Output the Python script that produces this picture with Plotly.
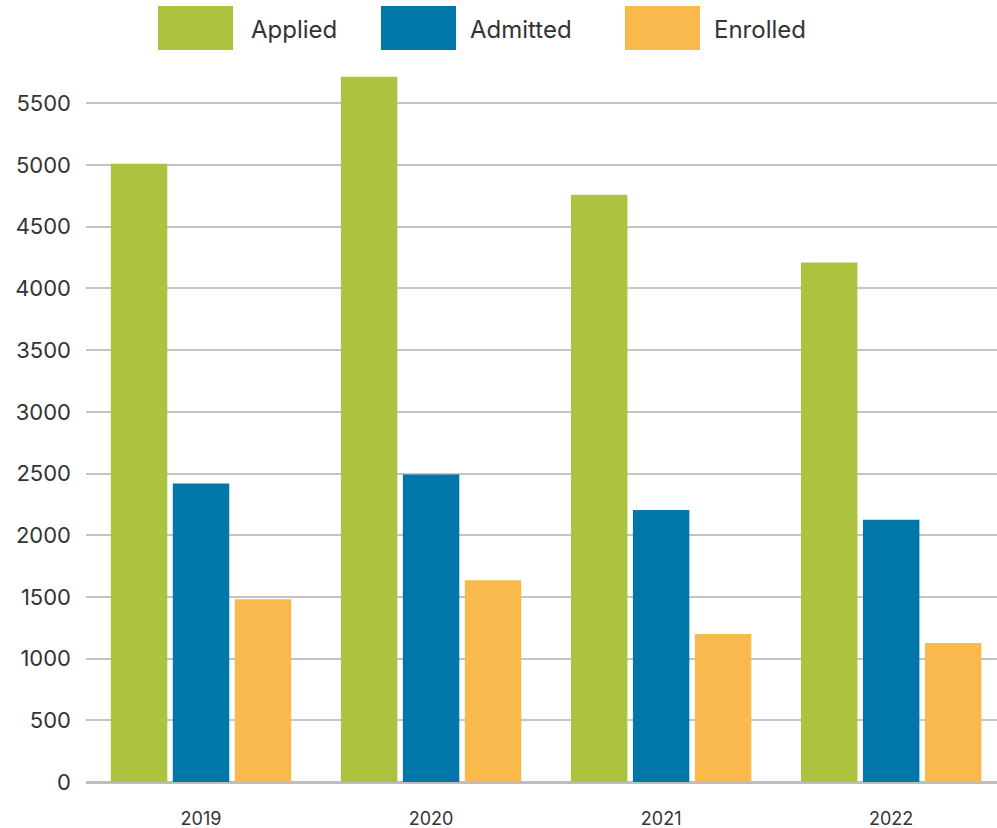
import plotly.graph_objects as go

# ---- data ----
years = ["2019", "2020", "2021", "2022"]
applied = [5010, 5715, 4760, 4210]
admitted = [2420, 2492, 2205, 2125]
enrolled = [1482, 1636, 1200, 1127]
series_names = ["Applied", "Admitted", "Enrolled"]
series_values = [applied, admitted, enrolled]
series_colors = ["#ABC33F", "#0077A8", "#F9B94C"]
y_tick_values = [0, 500, 1000, 1500, 2000, 2500, 3000, 3500, 4000, 4500, 5000, 5500]
y_tick_labels = [str(v) for v in y_tick_values]

# ---- layout geometry (pixels) ----
W, H = 997, 828
ML, MR, MT, MB = 86, 0, 54, 46
PW, PH = W - ML - MR, H - MT - MB
FONT = "Inter, 'DejaVu Sans', sans-serif"
TEXT_COLOR = "#333333"


def px_x(p):
    return (p - ML) / PW


def px_y(p):
    return (H - MB - p) / PH


fig = go.Figure()
for name, vals, col in zip(series_names, series_values, series_colors):
    fig.add_trace(go.Bar(x=years, y=vals, name=name, marker=dict(color=col, line=dict(width=0)),
                         showlegend=False, hoverinfo="x+y+name"))

# custom legend (large swatches)
swatch_left = [158, 381, 625]
text_left = [249, 468, 712]
shapes, annotations = [], []
for name, col, sl, tl in zip(series_names, series_colors, swatch_left, text_left):
    shapes.append(dict(type="rect", xref="paper", yref="paper",
                       x0=px_x(sl), x1=px_x(sl + 75), y0=px_y(50), y1=px_y(6),
                       fillcolor=col, line=dict(width=0), layer="above"))
    annotations.append(dict(xref="paper", yref="paper", x=px_x(tl), y=px_y(30),
                            xanchor="left", yanchor="middle", text=name, showarrow=False,
                            font=dict(family=FONT, size=24, color=TEXT_COLOR)))

fig.update_layout(
    width=W, height=H,
    margin=dict(l=ML, r=MR, t=MT, b=MB, pad=0),
    paper_bgcolor="white", plot_bgcolor="white",
    barmode="group", bargap=0.192, bargroupgap=0.089,
    font=dict(family=FONT, color=TEXT_COLOR),
    shapes=shapes, annotations=annotations,
    xaxis=dict(range=[-0.5, 3.46], showgrid=False, showline=False, zeroline=False,
               ticks="", tickfont=dict(size=18, color=TEXT_COLOR), ticklabelstandoff=24,
               fixedrange=True),
    yaxis=dict(range=[0, 5900], tickvals=y_tick_values, ticktext=y_tick_labels,
               showgrid=True, gridcolor="#C4C4C4", gridwidth=2,
               zeroline=True, zerolinecolor="#BDBDBD", zerolinewidth=2.5,
               showline=False, ticks="", ticklabelstandoff=14,
               tickfont=dict(size=22, color=TEXT_COLOR), fixedrange=True),
)

fig.write_html("out.html", config={"displayModeBar": False},
               post_script="document.body.style.margin='0';")
